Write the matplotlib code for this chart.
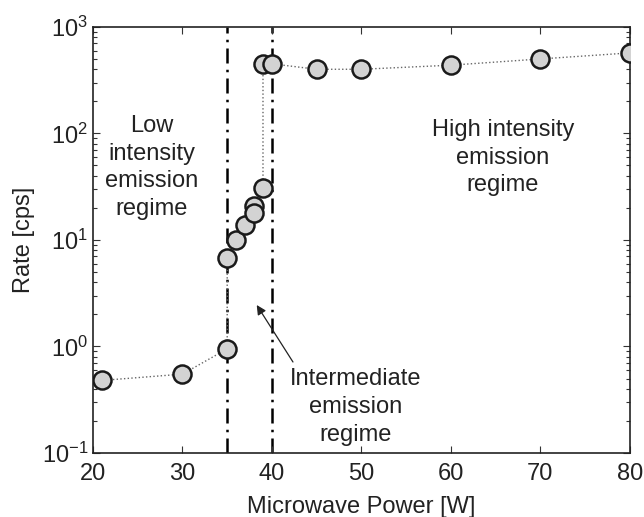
import matplotlib
matplotlib.use("Agg")
import matplotlib.pyplot as plt
from matplotlib.ticker import LogLocator, NullFormatter, FixedLocator

plt.rcParams['font.family'] = ['Liberation Sans', 'DejaVu Sans']
plt.rcParams['mathtext.fontset'] = 'custom'
plt.rcParams['mathtext.rm'] = 'Liberation Sans'
plt.rcParams['mathtext.it'] = 'Liberation Sans:italic'

# Microwave power sweep and measured count rate
power = [21, 30, 35, 35, 36, 37, 38, 38, 39, 39, 40, 45, 50, 60, 70, 80]
rate = [0.48, 0.55, 0.95, 6.8, 10, 13.8, 21, 18, 31, 450, 450, 400, 400, 437, 500, 570]

# Regime boundaries
boundaries = [35, 40]

x_ticks = [20, 30, 40, 50, 60, 70, 80]

fig = plt.figure(figsize=(6.44, 5.17), dpi=100)
ax = fig.add_axes([0.1444, 0.1238, 0.8336, 0.8242])

for b in boundaries:
    ax.axvline(b, color='black', lw=1.8, ls=(0, (6, 2.5, 1, 2.5)), zorder=1)

ax.plot(power, rate, ls=':', color='#666666', lw=1.0, zorder=2)
ax.plot(power, rate, ls='none', marker='o', ms=13, mfc='#d3d3d3',
        mec='#1a1a1a', mew=1.8, zorder=3)

ax.set_yscale('log')
ax.set_xlim(20, 80)
ax.set_ylim(0.1, 1000)
ax.xaxis.set_major_locator(FixedLocator(x_ticks))
ax.yaxis.set_major_locator(LogLocator(base=10, numticks=10))
ax.yaxis.set_minor_locator(LogLocator(base=10, subs=range(2, 10), numticks=20))
ax.yaxis.set_minor_formatter(NullFormatter())

ax.tick_params(which='both', direction='in', top=True, right=True,
               labelsize=17, width=0.8, color='#333333', labelcolor='#222222')
ax.tick_params(axis='x', pad=7)
ax.tick_params(which='major', length=5)
ax.tick_params(which='minor', length=3)
for s in ax.spines.values():
    s.set_linewidth(1.2)
    s.set_color('#222222')

ax.set_xlabel('Microwave Power [W]', fontsize=17, color='#222222', labelpad=8)
ax.set_ylabel('Rate [cps]', fontsize=17, color='#222222', labelpad=5)

txt = dict(fontsize=17, color='#222222', ha='center', va='center',
           linespacing=1.33)
ax.text(26.6, 48, 'Low\nintensity\nemission\nregime', **txt)
ax.text(65.8, 59, 'High intensity\nemission\nregime', **txt)
ax.text(49.3, 0.27, 'Intermediate\nemission\nregime', **txt)

ax.annotate('', xy=(38.3, 2.45), xytext=(42.35, 0.715),
            arrowprops=dict(arrowstyle='-|>', color='#222222', lw=0.9,
                            mutation_scale=14, shrinkA=0, shrinkB=0))

fig.savefig('out.png', dpi=100)
